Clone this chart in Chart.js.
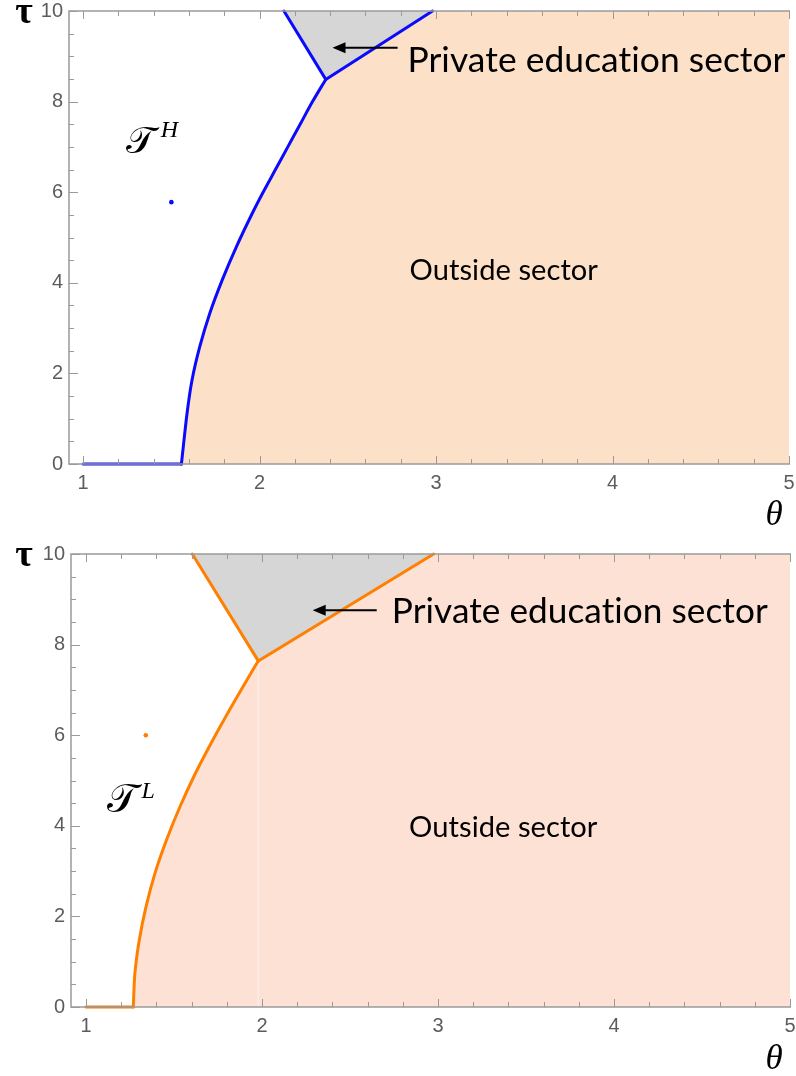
<!DOCTYPE html>
<html>
<head>
<meta charset="utf-8">
<script src="https://cdn.jsdelivr.net/npm/chart.js@4.4.1/dist/chart.umd.min.js"></script>
<style>
  html, body { margin: 0; padding: 0; background: #ffffff; }
  #wrap { position: relative; width: 796px; height: 1076px; }
  canvas { position: absolute; left: 0; }
</style>
</head>
<body>
<div id="wrap">
  <canvas id="panelH" width="796" height="538" style="top:0px"></canvas>
  <canvas id="panelL" width="796" height="538" style="top:538px"></canvas>
</div>
<script>
// ---- axis ticks -------------------------------------------------------
const thetaTicks = [1, 2, 3, 4, 5];
const tauTicks = [0, 2, 4, 6, 8, 10];

// ---- type H panel -----------------------------------------------------
// flat part of the boundary along τ = 0
const hFlatTheta = [1.0, 1.557];
const hFlatTau   = [0.0, 0.0];
// boundary between the left region and the outside sector
const hCurveTheta = [1.557, 1.589, 1.617, 1.661, 1.718, 1.788, 1.869, 1.958, 2.02, 2.09, 2.16, 2.23, 2.30, 2.375];
const hCurveTau   = [0.0,   1.12,  1.85,  2.59,  3.33,  4.06,  4.80,  5.53,  6.0,  6.5,  7.0,  7.5,  8.0,  8.49];
// edges of the private education wedge
const hLeftEdgeTheta  = [2.138, 2.375];
const hLeftEdgeTau    = [10.0, 8.49];
const hRightEdgeTheta = [2.375, 2.98];
const hRightEdgeTau   = [8.49, 10.0];
// marked point
const hPointTheta = [1.5];
const hPointTau   = [5.78];

// ---- type L panel -----------------------------------------------------
const lFlatTheta = [1.0, 1.269];
const lFlatTau   = [0.0, 0.0];
const lCurveTheta = [1.269, 1.278, 1.303, 1.341, 1.392, 1.458, 1.534, 1.622, 1.720, 1.826, 1.937, 1.979];
const lCurveTau   = [0.0,   0.74,  1.48,  2.21,  2.95,  3.69,  4.42,  5.16,  5.89,  6.63,  7.37,  7.64];
const lLeftEdgeTheta  = [1.604, 1.979];
const lLeftEdgeTau    = [10.0, 7.64];
const lRightEdgeTheta = [1.979, 2.975];
const lRightEdgeTau   = [7.64, 10.0];
const lSeamTheta = [1.979, 1.979];
const lSeamTau   = [0.0, 7.64];
const lPointTheta = [1.34];
const lPointTau   = [6.0];

const THETA_MAX = 5.0;
const TAU_MAX = 10.0;

const toPoints = (xs, ys) => xs.map((x, i) => ({ x: x, y: ys[i] }));

// ---- frame with inward ticks (drawn over the plotted regions) ---------
const frameColor = '#9a9a9a';
const framePlugin = {
  id: 'frame',
  afterDatasetsDraw(chart) {
    const { ctx, chartArea: a, scales: { x, y } } = chart;
    ctx.save();
    ctx.strokeStyle = frameColor;
    ctx.lineWidth = 1.5;
    ctx.beginPath();
    ctx.moveTo(a.right + 1, a.top); ctx.lineTo(a.left, a.top);
    ctx.lineTo(a.left, a.bottom); ctx.lineTo(a.right + 1, a.bottom);
    ctx.stroke();
    ctx.lineWidth = 1;
    ctx.beginPath();
    // θ ticks every 0.2, majors at integers
    for (let k = 0; k <= 20; k++) {
      const px = Math.round(x.getPixelForValue(1 + k * 0.2)) + 0.5;
      const len = (k % 5 === 0) ? 8 : 5;
      ctx.moveTo(px, a.bottom); ctx.lineTo(px, a.bottom - len);
      ctx.moveTo(px, a.top); ctx.lineTo(px, a.top + len);
    }
    // τ ticks every 0.5, majors at even values
    for (let k = 0; k <= 20; k++) {
      const py = Math.round(y.getPixelForValue(k * 0.5)) + 0.5;
      const len = (k % 4 === 0) ? 9 : 5;
      ctx.moveTo(a.left, py); ctx.lineTo(a.left + len, py);
    }
    ctx.stroke();
    ctx.restore();
  }
};

// ---- text and arrow annotations ----------------------------------------
function fitFont(ctx, text, width, family) {
  ctx.font = '100px ' + family;
  return 100 * width / ctx.measureText(text).width;
}

const notesPlugin = {
  id: 'notes',
  afterDatasetsDraw(chart, args, opts) {
    const { ctx, chartArea: a, scales: { x, y } } = chart;
    const n = opts.layout;
    ctx.save();
    ctx.fillStyle = '#000';
    ctx.textBaseline = 'alphabetic';
    ctx.textAlign = 'left';
    // a hair of spacing keeps "ti" as two separate letters
    if ('letterSpacing' in ctx) ctx.letterSpacing = '0.05px';

    // sector captions
    for (const t of n.captions) {
      const size = fitFont(ctx, t.text, t.width, 'Lato');
      ctx.font = size.toFixed(1) + 'px Lato';
      ctx.fillText(t.text, x.getPixelForValue(t.theta), y.getPixelForValue(t.tau));
    }
    if ('letterSpacing' in ctx) ctx.letterSpacing = '0px';

    // arrow towards the wedge
    const ar = n.arrow;
    const x0 = x.getPixelForValue(ar.fromTheta), x1 = x.getPixelForValue(ar.toTheta);
    const yy = y.getPixelForValue(ar.tau);
    ctx.strokeStyle = '#000';
    ctx.lineWidth = 2;
    ctx.beginPath(); ctx.moveTo(x0, yy); ctx.lineTo(x1 + 8, yy); ctx.stroke();
    ctx.beginPath();
    ctx.moveTo(x1, yy); ctx.lineTo(x1 + 13, yy - 5.5); ctx.lineTo(x1 + 13, yy + 5.5); ctx.closePath();
    ctx.fill();

    // type symbol
    const s = n.symbol;
    ctx.font = s.size + "px 'DejaVu Serif', 'DejaVu Sans', serif";
    ctx.fillText('\u{1D4AF}', x.getPixelForValue(s.theta), y.getPixelForValue(s.tau));
    ctx.font = 'italic ' + s.supSize + "px 'Liberation Serif', serif";
    ctx.fillText(s.sup, x.getPixelForValue(s.supTheta), y.getPixelForValue(s.supTau));

    // axis names
    ctx.textAlign = 'center';
    ctx.textBaseline = 'middle';
    ctx.font = "bold 38px 'Liberation Serif', serif";
    ctx.fillText('\u03C4', a.left + n.tauName.dx, a.top + n.tauName.dy);
    ctx.font = "italic 35px 'Liberation Serif', serif";
    ctx.fillText('\u03B8', a.right + n.thetaName.dx, a.bottom + n.thetaName.dy);
    ctx.restore();
  }
};

function buildPanel(id, p) {
  const fillTheta = p.flatTheta.concat(p.curveTheta.slice(1), p.rightTheta.slice(1), [THETA_MAX + 0.01]);
  const fillTau = p.flatTau.concat(p.curveTau.slice(1), p.rightTau.slice(1), [TAU_MAX]);
  const line = (xs, ys, extra) => Object.assign({
    data: toPoints(xs, ys), borderColor: p.lineColor, borderWidth: 3, pointRadius: 0,
    fill: false, order: 2, clip: 4, borderJoinStyle: 'round', borderCapStyle: 'round'
  }, extra || {});

  const datasets = [
    { // outside sector
      data: toPoints(fillTheta, fillTau),
      borderWidth: 0, pointRadius: 0, fill: 'origin', backgroundColor: p.outsideColor, order: 5
    },
    { // private education wedge
      data: toPoints(p.leftTheta.concat(p.rightTheta.slice(1)), p.leftTau.concat(p.rightTau.slice(1))),
      borderWidth: 0, pointRadius: 0, fill: 'end', backgroundColor: '#d6d6d6', order: 4
    }
  ];
  if (p.seamTheta) {
    datasets.push({
      data: toPoints(p.seamTheta, p.seamTau),
      borderColor: 'rgba(255,255,255,0.6)', borderWidth: 1, pointRadius: 0, fill: false, order: 3
    });
  }
  datasets.push(
    line(p.flatTheta, p.flatTau),
    line(p.curveTheta, p.curveTau, { tension: 0.3 }),
    line(p.leftTheta, p.leftTau),
    line(p.rightTheta, p.rightTau),
    {
      data: toPoints(p.pointTheta, p.pointTau),
      showLine: false, pointRadius: 2.3, pointBorderWidth: 0,
      pointBackgroundColor: p.lineColor, order: 1
    }
  );

  const tickFont = { family: "'Liberation Sans', Arial, sans-serif", size: 20, lineHeight: 1.0 };
  return new Chart(document.getElementById(id), {
    type: 'scatter',
    data: { datasets: datasets },
    options: {
      responsive: false,
      animation: false,
      devicePixelRatio: 1,
      showLine: true,
      layout: { padding: p.padding },
      plugins: { legend: { display: false }, tooltip: { enabled: false }, notes: { layout: p.notes } },
      elements: { line: { tension: 0 } },
      scales: {
        x: {
          type: 'linear', min: p.thetaMin, max: THETA_MAX,
          grid: { display: false, drawTicks: false }, border: { display: false },
          afterBuildTicks: s => { s.ticks = thetaTicks.map(v => ({ value: v })); },
          // fixed band under the plot; labels may overhang the ends
          afterFit: s => { s.height = p.xAxisHeight; s.paddingLeft = 0; s.paddingRight = 0; },
          ticks: { padding: 9, color: '#5c5c5c', font: tickFont, callback: v => String(v), maxRotation: 0 }
        },
        y: {
          type: 'linear', min: 0, max: TAU_MAX,
          grid: { display: false, drawTicks: false }, border: { display: false },
          afterBuildTicks: s => { s.ticks = tauTicks.map(v => ({ value: v })); },
          afterFit: s => { s.width = p.yAxisWidth; s.paddingTop = 0; s.paddingBottom = 0; },
          ticks: { padding: 6, color: '#5c5c5c', font: tickFont, callback: v => String(v) }
        }
      }
    },
    plugins: [framePlugin, notesPlugin]
  });
}

buildPanel('panelH', {
  flatTheta: hFlatTheta, flatTau: hFlatTau,
  curveTheta: hCurveTheta, curveTau: hCurveTau,
  leftTheta: hLeftEdgeTheta, leftTau: hLeftEdgeTau,
  rightTheta: hRightEdgeTheta, rightTau: hRightEdgeTau,
  pointTheta: hPointTheta, pointTau: hPointTau,
  lineColor: '#0a0aff', outsideColor: '#fce1c8',
  thetaMin: 0.92,
  padding: { left: 0, right: 7, top: 11, bottom: 0 },
  xAxisHeight: 74, yAxisWidth: 69,
  notes: {
    captions: [
      { text: 'Private education sector', theta: 2.838, tau: 8.65, width: 377 },
      { text: 'Outside sector', theta: 2.85, tau: 4.06, width: 188 }
    ],
    arrow: { fromTheta: 2.782, toTheta: 2.413, tau: 9.19 },
    symbol: { size: 38, theta: 1.245, tau: 6.87, sup: 'H', supSize: 24, supTheta: 1.44, supTau: 7.22 },
    tauName: { dx: -45, dy: 2 },
    thetaName: { dx: -15, dy: 52 }
  }
});

buildPanel('panelL', {
  flatTheta: lFlatTheta, flatTau: lFlatTau,
  curveTheta: lCurveTheta, curveTau: lCurveTau,
  leftTheta: lLeftEdgeTheta, leftTau: lLeftEdgeTau,
  rightTheta: lRightEdgeTheta, rightTau: lRightEdgeTau,
  seamTheta: lSeamTheta, seamTau: lSeamTau,
  pointTheta: lPointTheta, pointTau: lPointTau,
  lineColor: '#ff7f00', outsideColor: '#fce1d4',
  thetaMin: 0.915,
  padding: { left: 0, right: 6, top: 16, bottom: 0 },
  xAxisHeight: 69, yAxisWidth: 71,
  notes: {
    captions: [
      { text: 'Private education sector', theta: 2.738, tau: 8.48, width: 375 },
      { text: 'Outside sector', theta: 2.836, tau: 3.75, width: 188 }
    ],
    arrow: { fromTheta: 2.652, toTheta: 2.288, tau: 8.76 },
    symbol: { size: 40, theta: 1.12, tau: 4.30, sup: 'L', supSize: 24, supTheta: 1.315, supTau: 4.61 },
    tauName: { dx: -47, dy: 2 },
    thetaName: { dx: -16, dy: 53 }
  }
});
</script>
</body>
</html>
